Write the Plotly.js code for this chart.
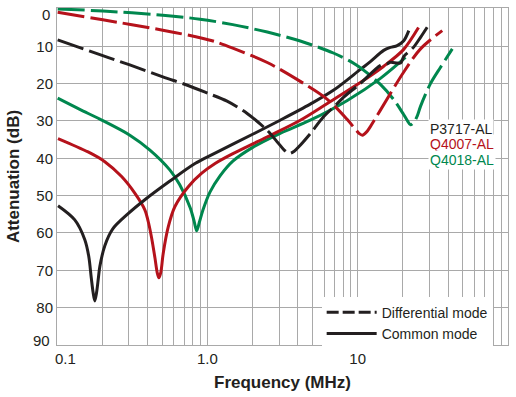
<!DOCTYPE html>
<html>
<head>
<meta charset="utf-8">
<script src="https://cdn.plot.ly/plotly-3.0.1.min.js"></script>
<style>
  html, body { margin: 0; padding: 0; background: #ffffff; }
  #chart { width: 516px; height: 397px; }
</style>
</head>
<body>
<div id="chart"></div>
<script>
// ---- Data (frequency in MHz, attenuation in dB) ----
const p3717DmFreq = [0.101, 0.2016, 0.305, 0.5056, 0.721, 0.995, 1.353, 1.84, 2.5, 2.96, 3.245, 3.505, 3.785, 4.15, 4.84, 5.93, 7.29, 8.07, 10.4, 14.2, 15.7, 16.5, 18.3, 19.3, 20.3, 23.5, 26.2, 29.0];
const p3717DmAtt  = [8.3, 12.5, 15.0, 18.2, 20.3, 22.5, 24.7, 28.0, 32.5, 35.9, 37.8, 38.7, 38.1, 36.5, 33.4, 28.9, 25.4, 23.6, 20.0, 15.1, 14.7, 14.3, 14.5, 14.5, 12.7, 10.3, 7.6, 4.9];

const p3717CmFreq = [0.1016, 0.1313, 0.1531, 0.1627, 0.169, 0.1738, 0.1783, 0.1834, 0.1883, 0.1927, 0.208, 0.235, 0.296, 0.384, 0.564, 0.828, 1.126, 2.017, 3.052, 4.838, 6.89, 10.42, 12.15, 14.9, 16.52, 18.31, 20.26, 21.88];
const p3717CmAtt  = [52.7, 56.5, 61.8, 66.3, 72.0, 75.9, 78.2, 75.9, 72.2, 69.0, 63.4, 58.9, 54.9, 51.1, 46.1, 41.4, 38.6, 33.5, 29.8, 25.5, 21.8, 16.2, 14.1, 11.1, 10.3, 9.8, 8.5, 5.8];

const q4007DmFreq = [0.101, 0.2016, 0.5056, 0.894, 1.126, 1.477, 2.505, 4.15, 6.28, 8.5, 9.65, 10.26, 10.75, 11.43, 12.15, 14.17, 20.26, 26.18, 36.53];
const q4007DmAtt  = [0.9, 2.9, 5.7, 7.7, 8.75, 10.5, 14.35, 19.4, 24.2, 29.55, 32.2, 33.4, 33.8, 33.0, 31.5, 27.1, 16.9, 10.7, 5.8];

const q4007CmFreq = [0.1015, 0.161, 0.208, 0.269, 0.330, 0.384, 0.409, 0.428, 0.448, 0.464, 0.476, 0.49, 0.509, 0.55, 0.609, 0.747, 0.918, 1.126, 1.491, 2.489, 4.15, 6.28, 10.42, 14.84, 20.17, 25.39];
const q4007CmAtt  = [34.7, 38.3, 40.9, 44.9, 49.4, 53.8, 57.8, 61.8, 66.6, 70.6, 72.0, 70.6, 65.4, 58.3, 52.9, 47.6, 44.0, 41.4, 38.7, 34.3, 29.8, 25.3, 19.7, 15.4, 10.9, 5.0];

const q4018DmFreq = [0.101, 0.2016, 0.5056, 0.894, 1.477, 2.505, 4.15, 6.89, 9.8, 14.17, 17.3, 20.17, 21.4, 22.46, 23.7, 25.0, 26.18, 30.5, 35.6, 42.6];
const q4018DmAtt  = [0.0, 0.56, 1.68, 2.75, 4.2, 6.2, 8.6, 11.8, 15.0, 20.2, 24.2, 28.2, 29.9, 31.0, 30.3, 28.5, 26.1, 20.0, 15.6, 10.7];

const q4018CmFreq = [0.101, 0.1417, 0.1927, 0.3051, 0.4151, 0.5625, 0.6553, 0.7701, 0.815, 0.850, 0.887, 0.936, 1.043, 1.215, 1.484, 2.017, 3.052, 4.838, 8.53, 14.17, 20.8];
const q4018CmAtt  = [23.9, 26.9, 29.5, 33.8, 37.8, 43.1, 47.1, 53.3, 56.7, 59.4, 57.0, 53.8, 49.0, 44.7, 40.7, 37.0, 33.3, 29.8, 24.5, 18.6, 13.0];

const partNames  = ["P3717-AL", "Q4007-AL", "Q4018-AL"];
const modeNames  = ["Differential mode", "Common mode"];

const xTickVals = [0.1,0.2,0.3,0.4,0.5,0.6,0.7,0.8,0.9,1,2,3,4,5,6,7,8,9,10,20,30,40,50,60,70,80,90,100];
const xTickLabels = {0.1: "\u00a0\u00a0\u00a0\u00a00.1", 1: "1.0", 10: "10", 100: "100\u00a0\u00a0\u00a0\u00a0\u00a0"};
const yTickVals = [0, 10, 20, 30, 40, 50, 60, 70, 80, 90];
const yEdgeTicks = [0, 90];

// ---- Styling ----
const colBlack = "#231f20";
const colRed = "#b5121b";
const colGreen = "#00874e";
const dashDM = "27px,6px";
const lw = 3;
const font = "Liberation Sans, Arial, Helvetica, sans-serif";
const gridCol = "#a9a9a9";

function curve(x, y, color, dm) {
  return {
    x: x, y: y, type: "scatter", mode: "lines",
    line: {color: color, width: lw, dash: dm ? dashDM : "solid", shape: "spline", smoothing: 0.9},
    showlegend: false, hoverinfo: "skip"
  };
}

const traces = [
  curve(q4018CmFreq, q4018CmAtt, colGreen, false),
  curve(q4007CmFreq, q4007CmAtt, colRed, false),
  curve(p3717CmFreq, p3717CmAtt, colBlack, false),
  curve(q4018DmFreq, q4018DmAtt, colGreen, true),
  curve(q4007DmFreq, q4007DmAtt, colRed, true),
  curve(p3717DmFreq, p3717DmAtt, colBlack, true),
  {x: [null], y: [null], type: "scatter", mode: "lines", name: modeNames[0],
   line: {color: colBlack, width: lw, dash: "12px,4px"}, showlegend: true},
  {x: [null], y: [null], type: "scatter", mode: "lines", name: modeNames[1],
   line: {color: colBlack, width: lw}, showlegend: true}
];

const partColors = [colBlack, colRed, colGreen];
const partY = [0.640, 0.595, 0.549];
const annotations = partNames.map((t, i) => ({
  text: t, xref: "paper", yref: "paper", x: 0.822, y: partY[i],
  xanchor: "left", yanchor: "middle", showarrow: false,
  font: {family: font, size: 14, color: partColors[i]},
  bgcolor: "#ffffff", borderpad: 1
}));
// edge y tick labels (0 and 90) sit slightly inside the frame, as in the reference
yEdgeTicks.forEach(v => annotations.push({
  text: String(v), xref: "paper", yref: "y", x: 0, y: v,
  xanchor: "right", yanchor: "middle", xshift: -5, yshift: v === 0 ? -6 : 4.5,
  showarrow: false, font: {family: font, size: 15, color: colBlack}
}));

const layout = {
  width: 516, height: 397,
  margin: {l: 57, r: 8, t: 8, b: 52},
  paper_bgcolor: "#ffffff", plot_bgcolor: "#ffffff",
  font: {family: font, color: colBlack, size: 15},
  showlegend: true,
  legend: {
    x: 0.966, xanchor: "right", y: -0.014, yanchor: "bottom",
    bgcolor: "#ffffff", borderwidth: 0,
    font: {family: font, size: 14, color: colBlack},
    itemwidth: 50, tracegroupgap: 0
  },
  xaxis: {
    type: "log", range: [-1, 2],
    tickmode: "array", tickvals: xTickVals,
    ticktext: xTickVals.map(v => xTickLabels[v] || ""),
    showgrid: true, gridcolor: gridCol, gridwidth: 1,
    showline: true, linecolor: gridCol, linewidth: 1, mirror: true,
    ticks: "", zeroline: false,
    tickfont: {family: font, size: 15, color: colBlack},
    title: {text: "Frequency (MHz)", font: {family: font, size: 17, weight: "bold", color: colBlack}, standoff: 10}
  },
  yaxis: {
    range: [90, -0.25],
    tickmode: "array", tickvals: yTickVals,
    ticktext: yTickVals.map(v => yEdgeTicks.includes(v) ? "" : String(v)),
    showgrid: true, gridcolor: gridCol, gridwidth: 1,
    showline: true, linecolor: gridCol, linewidth: 1, mirror: true,
    ticks: "", zeroline: false,
    tickfont: {family: font, size: 15, color: colBlack},
    title: {text: "Attenuation (dB)", font: {family: font, size: 17, weight: "bold", color: colBlack}, standoff: 12}
  },
  annotations: annotations
};

Plotly.newPlot("chart", traces, layout, {staticPlot: true, displayModeBar: false});
</script>
</body>
</html>
